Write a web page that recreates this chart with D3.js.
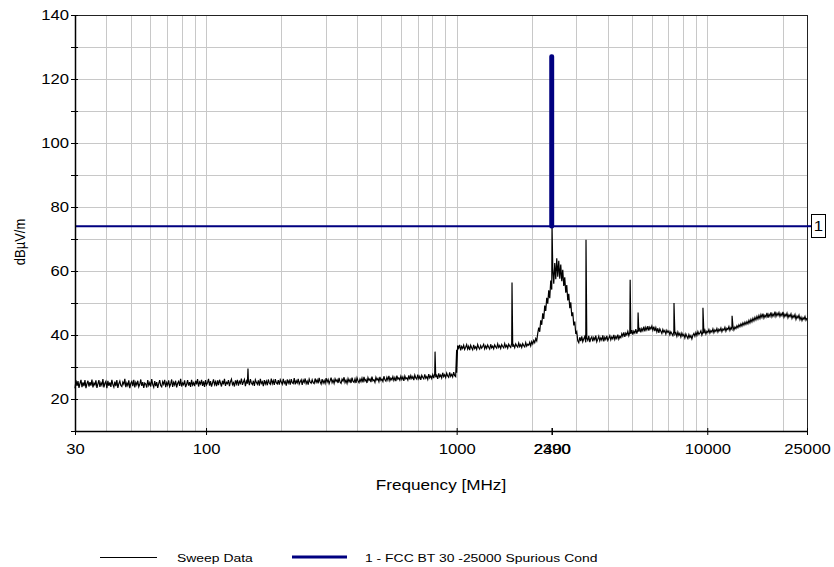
<!DOCTYPE html>
<html>
<head>
<meta charset="utf-8">
<script src="https://cdn.jsdelivr.net/npm/d3@7"></script>
<style>
  body { margin: 0; background: #fff; }
  svg { display: block; font-family: "Liberation Sans", Arial, sans-serif; }
</style>
</head>
<body>
<div id="chart"></div>
<script>
// sweep data, low band 30 - 1000 MHz (dBuV/m, sweep points evenly spaced in log f)
var lowStart = 30, lowStop = 1000;
var lowValues = [
  23.3,25.8,24.1,25.6,23.5,24.9,26.0,23.7,25.2,24.0,25.9,23.4,24.8,25.7,23.9,25.3,24.2,26.1,23.6,25.0,24.4,25.8,23.5,24.7,
  25.9,23.8,25.1,24.3,26.2,23.6,24.9,25.5,23.4,25.7,24.1,25.2,23.8,26.0,24.5,23.7,25.4,24.0,25.9,23.5,24.8,25.6,24.2,23.9,
  25.3,24.6,26.3,23.7,25.0,24.2,25.8,23.4,24.9,25.5,24.0,26.0,23.6,25.2,24.4,25.7,23.8,24.6,26.1,24.1,25.3,23.5,25.0,24.7,
  23.6,25.9,24.3,25.1,23.9,26.2,24.5,23.7,25.6,24.0,25.3,23.5,24.8,25.9,24.2,23.8,25.4,24.6,26.0,23.7,25.1,24.3,25.8,23.9,
  24.7,26.1,23.8,25.2,24.4,25.7,23.6,24.9,25.5,24.1,26.3,23.9,25.0,24.5,25.8,23.7,24.6,25.9,24.2,25.3,23.8,26.0,24.4,25.1,
  24.0,25.7,24.6,26.2,23.9,25.3,24.7,26.0,24.1,25.5,23.8,25.9,24.4,25.1,26.3,24.2,25.6,23.9,25.0,26.1,24.5,25.4,24.0,25.8,
  24.3,26.0,25.0,23.9,25.7,24.6,26.3,24.1,25.2,24.8,25.9,24.0,25.4,26.2,24.5,25.1,23.9,25.8,24.7,26.0,24.2,25.5,24.9,26.4,
  24.4,25.3,26.1,24.0,25.6,24.8,25.9,24.3,26.2,25.0,24.5,25.7,24.1,26.0,25.2,24.6,25.8,24.2,26.3,24.9,25.4,24.0,25.9,24.7,
  25.6,24.3,26.1,25.0,24.6,26.4,24.8,25.7,24.4,26.2,25.1,24.7,25.9,24.5,26.0,25.3,24.6,26.3,24.9,25.5,24.2,26.1,25.0,25.8,
  24.5,26.2,25.1,24.8,26.5,24.6,25.7,25.0,26.3,24.7,25.4,26.0,24.4,25.9,25.2,26.4,24.8,25.6,24.5,26.2,25.3,24.9,26.0,25.1,
  24.8,26.4,25.2,26.0,24.9,26.6,25.4,24.7,26.2,25.0,25.8,24.9,26.5,25.3,26.1,24.8,25.7,26.7,25.1,25.9,24.9,26.3,25.5,26.0,
  25.0,26.6,25.3,24.9,26.2,25.6,26.8,25.1,25.9,24.9,26.4,25.4,26.1,25.0,26.7,25.5,25.2,26.3,25.0,26.6,25.7,25.1,26.2,25.4,
  26.5,25.2,26.9,25.6,26.1,25.0,26.7,25.8,26.3,25.3,27.0,25.7,26.0,25.2,26.8,25.9,26.4,25.4,26.9,25.8,26.2,25.5,27.1,26.0,
  25.6,26.8,25.9,27.2,25.7,26.5,26.0,27.0,25.8,26.7,25.6,27.3,26.2,26.6,25.9,27.1,26.1,26.9,25.7,27.2,26.3,26.6,25.9,27.4,
  26.1,27.3,26.4,27.0,25.9,27.5,26.6,26.2,27.6,26.3,27.1,26.0,27.4,26.7,26.3,27.7,26.5,27.0,26.1,27.8,26.6,27.2,26.4,27.6,
  26.5,27.9,26.8,27.4,26.3,28.0,26.9,27.5,26.6,28.2,27.0,27.6,26.7,28.1,27.2,26.8,28.3,27.1,27.7,26.9,28.4,27.3,27.0,28.2
];

// sweep data, high band 1000 - 25000 MHz
var highStart = 1000, highStop = 25000;
var highValues = [
  35.4,36.7,35.9,36.9,35.2,36.4,35.8,36.8,35.5,36.2,37.0,35.6,36.5,35.3,36.8,36.0,35.4,36.9,35.8,36.3,
  35.5,37.0,36.1,35.6,36.7,35.9,36.4,37.1,35.7,36.6,35.8,36.9,36.2,35.6,37.1,36.0,36.5,35.7,36.9,36.3,
  35.9,37.2,36.1,36.7,35.8,37.0,36.4,36.0,37.3,36.2,36.8,35.9,37.1,36.5,36.1,37.4,36.3,36.9,36.0,37.2,
  36.6,36.2,37.5,36.4,37.0,36.1,37.3,36.7,36.3,37.6,36.5,37.1,36.8,37.7,36.6,37.9,37.2,38.3,37.6,38.9,38.2,
  // 2.1 - 3 GHz skirt of the carrier
  40.5,42.3,41.0,44.6,43.2,46.8,45.0,49.2,47.5,51.6,49.8,54.0,51.5,57.0,54.2,60.8,56.0,62.5,57.4,64.0,
  58.2,63.2,57.6,62.0,56.8,60.4,55.3,58.0,53.2,55.6,50.8,52.9,48.4,50.2,45.9,47.1,43.0,44.2,40.3,41.0,38.2,
  37.6,39.3,38.1,39.6,37.9,38.8,39.5,37.7,39.0,38.3,39.7,37.8,38.9,39.4,38.0,39.2,38.5,39.8,37.9,38.7,
  39.6,38.2,39.1,38.4,39.9,38.0,39.3,38.6,39.7,38.3,39.0,39.8,38.5,39.4,38.8,40.0,38.6,39.5,38.9,40.1,38.7,39.6,
  39.2,40.4,39.6,40.8,39.4,40.6,40.0,41.1,39.8,40.9,40.3,41.5,40.1,41.2,40.6,41.8,40.4,41.6,41.0,42.2,
  40.8,42.0,41.3,42.6,41.1,42.4,41.6,42.8,41.4,42.5,
  41.9,42.8,41.5,42.6,41.2,42.3,41.0,42.1,40.7,41.9,41.2,40.5,41.7,40.9,41.4,40.3,41.5,40.8,41.2,40.1,
  41.0,40.4,39.8,41.1,40.2,40.7,39.6,40.9,39.9,40.5,39.4,40.6,39.7,40.2,39.1,40.3,39.5,38.9,40.1,39.2,
  39.8,38.8,39.9,
  40.5,39.6,40.8,39.9,41.1,40.2,40.6,41.3,40.0,41.0,40.5,41.5,40.3,41.2,40.8,41.7,40.6,41.4,40.9,41.9,
  40.7,41.6,41.1,42.0,40.9,41.8,41.3,42.2,41.0,41.9,41.5,42.4,41.2,42.1,41.7,42.6,41.4,42.3,41.8,42.8,41.6,42.5,42.0,42.9,
  42.3,43.2,42.6,43.5,42.8,43.8,43.1,44.0,43.3,44.2,43.5,44.6,43.8,44.9,44.1,45.2,44.4,45.5,44.7,45.8,
  45.0,46.1,45.2,46.4,45.5,46.7,45.3,46.2,45.6,46.9,45.4,46.5,45.8,47.1,45.7,46.6,45.9,47.3,45.8,46.8,
  46.1,47.0,45.8,46.7,46.0,47.2,45.6,46.5,45.9,46.8,45.4,46.3,45.7,46.6,45.2,46.1,45.5,46.4,44.9,45.9,
  45.3,46.2,44.8,45.6,44.5,45.4,44.9,45.8,44.6,45.3
];

// narrow spurs on top of the noise floor
var spikeFreq  = [147, 820, 1663, 2370, 2402, 3282, 4924, 5296, 7366, 9611, 12560];
var spikeLevel = [29.5, 34.8, 56.4, 56, 74.5, 69.8, 57.3, 47, 50, 48.5, 46];

// limit line 1
var limitFreq  = [30, 2390, 2390, 2400, 2400, 25000];
var limitLevel = [74, 74, 127, 127, 74, 74];

var xTicks = [30, 100, 1000, 2390, 2400, 10000, 25000];
var xGrid = [40,50,60,70,80,90,100,200,300,400,500,600,700,800,900,1000,
             2000,3000,4000,5000,6000,7000,8000,9000,10000,20000];
var yTicks = [10,20,30,40,50,60,70,80,90,100,110,120,130,140];

var navy = '#000080';
var sx = 1.19; // text in the original is horizontally stretched

var margin = {top: 15, right: 27, bottom: 136, left: 75},
    width = 834 - margin.left - margin.right,
    height = 567 - margin.top - margin.bottom;

var svg = d3.select('#chart').append('svg')
  .attr('width', 834)
  .attr('height', 567);

var g = svg.append('g')
  .attr('transform', 'translate(' + margin.left + ',' + margin.top + ')');

var x = d3.scaleLog().domain([30, 25000]).range([0, width]);
var y = d3.scaleLinear().domain([10, 140]).range([height, 0]);

// grid
g.append('g').selectAll('line')
  .data(xGrid)
  .enter().append('line')
  .attr('x1', function (d) { return Math.round(x(d)) + 0.5; })
  .attr('x2', function (d) { return Math.round(x(d)) + 0.5; })
  .attr('y1', 0).attr('y2', height)
  .attr('stroke', '#c8c8c8');

g.append('g').selectAll('line')
  .data(yTicks.filter(function (d) { return d > 10 && d < 140; }))
  .enter().append('line')
  .attr('x1', 0).attr('x2', width)
  .attr('y1', function (d) { return Math.round(y(d)) + 0.5; })
  .attr('y2', function (d) { return Math.round(y(d)) + 0.5; })
  .attr('stroke', '#c8c8c8');

// frame
g.append('rect')
  .attr('x', 0.5).attr('y', 0.5)
  .attr('width', width).attr('height', height)
  .attr('fill', 'none').attr('stroke', '#222');

// build sweep trace
var trace = [];
lowValues.forEach(function (v, i) {
  trace.push({f: lowStart * Math.pow(lowStop / lowStart, i / (lowValues.length - 1)), v: v});
});
highValues.forEach(function (v, i) {
  trace.push({f: highStart * Math.pow(highStop / highStart, i / (highValues.length - 1)), v: v});
});
spikeFreq.forEach(function (f, i) {
  trace.push({f: f, v: spikeLevel[i]});
});
trace.sort(function (a, b) { return a.f - b.f; });

var line = d3.line()
  .x(function (d) { return x(d.f); })
  .y(function (d) { return y(d.v); });

g.append('path')
  .datum(trace)
  .attr('d', line)
  .attr('fill', 'none')
  .attr('stroke', '#000')
  .attr('stroke-width', 1.2);

// limit line
var limit = limitFreq.map(function (f, i) { return {f: f, v: limitLevel[i]}; });
g.append('path')
  .datum(limit)
  .attr('d', line)
  .attr('fill', 'none')
  .attr('stroke', navy)
  .attr('stroke-width', 2);

g.append('path')
  .datum(limit.filter(function (d) { return d.f >= 2390 && d.f <= 2400; }))
  .attr('d', line)
  .attr('fill', 'none')
  .attr('stroke', navy)
  .attr('stroke-width', 4.5)
  .attr('stroke-linecap', 'round')
  .attr('stroke-linejoin', 'round');

// limit marker
var ly = y(limitLevel[limitLevel.length - 1]);
g.append('line')
  .attr('x1', width).attr('x2', width + 4)
  .attr('y1', ly).attr('y2', ly)
  .attr('stroke', navy).attr('stroke-width', 2);
g.append('rect')
  .attr('x', width + 4.5).attr('y', Math.round(ly) - 11.5)
  .attr('width', 14).attr('height', 23)
  .attr('fill', '#fff').attr('stroke', '#000');
g.append('text')
  .attr('transform', 'translate(' + (width + 11.5) + ',' + (ly + 5) + ') scale(' + sx + ',1)')
  .attr('text-anchor', 'middle')
  .style('font-size', '14px')
  .text('1');

// axes
var xAxis = g.append('g')
  .attr('transform', 'translate(0,' + height + ')')
  .call(d3.axisBottom(x).tickValues(xTicks).tickFormat(d3.format('d')).tickSizeOuter(0));
xAxis.selectAll('line').attr('y1', -3).attr('y2', 4).attr('stroke', '#000');
xAxis.selectAll('text')
  .attr('y', 13)
  .attr('fill', '#000')
  .attr('transform', 'scale(' + sx + ',1)')
  .style('font-size', '14px');
xAxis.select('.domain').attr('stroke', '#000').attr('stroke-width', 1.5);

var yAxis = g.append('g')
  .call(d3.axisLeft(y).tickValues(yTicks)
    .tickFormat(function (d) { return d % 20 === 0 && d > 10 ? d : ''; })
    .tickSizeOuter(0));
yAxis.selectAll('line').attr('x1', 3).attr('x2', -4).attr('stroke', '#000');
yAxis.selectAll('text')
  .attr('x', -6 / sx)
  .attr('fill', '#000')
  .attr('transform', 'scale(' + sx + ',1)')
  .style('font-size', '14px');
yAxis.select('.domain').attr('stroke', '#000').attr('stroke-width', 1.5);

// axis titles
svg.append('text')
  .attr('transform', 'translate(441,490) scale(' + sx + ',1)')
  .attr('text-anchor', 'middle')
  .style('font-size', '14.4px')
  .text('Frequency [MHz]');

svg.append('text')
  .attr('transform', 'translate(25,242) rotate(-90) scale(1,' + sx + ')')
  .attr('text-anchor', 'middle')
  .style('font-size', '13px')
  .text('dBµV/m');

// legend
var legend = svg.append('g');
legend.append('line')
  .attr('x1', 100).attr('x2', 157).attr('y1', 557.5).attr('y2', 557.5)
  .attr('stroke', '#000');
legend.append('text')
  .attr('transform', 'translate(177,562) scale(' + sx + ',1)')
  .style('font-size', '11.7px')
  .text('Sweep Data');
legend.append('line')
  .attr('x1', 292).attr('x2', 347).attr('y1', 557).attr('y2', 557)
  .attr('stroke', navy).attr('stroke-width', 3);
legend.append('text')
  .attr('transform', 'translate(365,562) scale(' + sx + ',1)')
  .style('font-size', '11.7px')
  .text('1 - FCC BT 30 -25000 Spurious Cond');
</script>
</body>
</html>
